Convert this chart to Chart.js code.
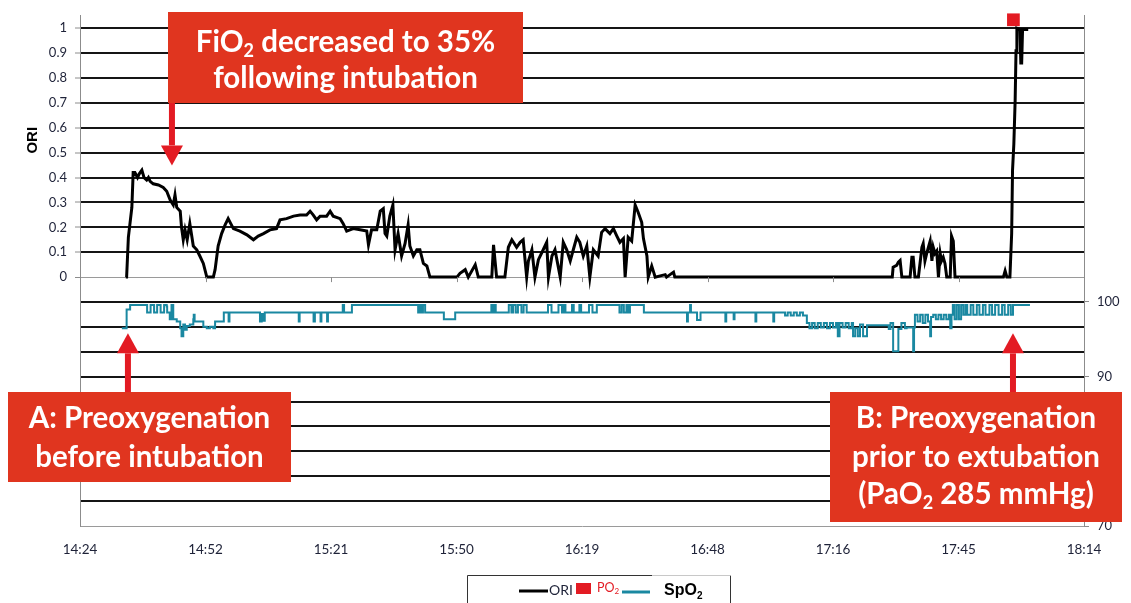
<!DOCTYPE html>
<html>
<head>
<meta charset="utf-8">
<script src="https://cdn.jsdelivr.net/npm/chart.js@4.4.1/dist/chart.umd.min.js"></script>
<style>
  html, body { margin: 0; padding: 0; background: #fff; }
</style>
</head>
<body>
<canvas id="graph" width="1131" height="603"></canvas>
<script>
// x values are minutes after 14:24 (Excel date axis, one tick every 0.02 day = 28.8 min)
const timeLabels = ['14:24', '14:52', '15:21', '15:50', '16:19', '16:48', '17:16', '17:45', '18:14'];
const tickStep = 28.8;
const spo2Ticks = [70, 80, 90, 100];

const oriMinutes = [
  10.5, 10.7, 11.1, 11.9, 12.2, 12.6, 13.2, 13.6, 14.2, 14.7,
  15.3, 15.7, 16.1, 16.8, 18.0, 19.1, 19.9, 20.7, 21.4, 21.8,
  22.2, 23.0, 23.3, 23.7, 24.1, 24.6, 25.2, 25.6, 26.0, 26.8,
  27.5, 28.3, 29.1, 30.6, 31.0, 31.7, 32.5, 33.3, 34.0, 34.6,
  35.2, 36.7, 38.3, 39.8, 40.9, 42.1, 43.6, 45.1, 45.9, 47.4,
  49.0, 50.5, 52.0, 52.8, 53.5, 54.3, 55.1, 56.6, 57.4, 58.1,
  59.7, 60.4, 61.2, 62.7, 64.3, 65.8, 66.2, 66.9, 68.1, 68.9,
  69.6, 70.0, 70.4, 71.1, 71.8, 72.3, 73.0, 73.8, 74.6, 75.3,
  75.7, 76.5, 77.3, 78.0, 78.8, 79.6, 80.3, 86.5, 87.2, 88.4,
  89.1, 90.7, 91.4, 94.5, 94.9, 95.6, 97.5, 98.3, 99.1, 100.2,
  101.0, 101.7, 102.5, 102.9, 103.7, 104.4, 105.2, 106.3, 107.1, 107.5,
  108.3, 109.0, 110.2, 110.9, 111.7, 112.5, 113.2, 114.0, 114.7, 115.5,
  116.3, 117.0, 117.8, 118.9, 119.7, 120.5, 121.6, 122.4, 123.2, 123.9,
  124.7, 125.1, 125.8, 126.6, 127.4, 128.1, 128.9, 129.3, 130.1, 130.4,
  131.2, 132.0, 134.3, 134.6, 136.2, 136.5, 186.4, 186.6, 187.4, 187.8,
  188.2, 188.6, 190.5, 190.9, 191.2, 191.6, 192.4, 193.2, 193.5, 193.9,
  194.3, 194.7, 195.1, 195.5, 195.8, 196.2, 196.6, 197.0, 197.4, 197.7,
  198.1, 198.5, 198.9, 199.7, 200.0, 200.4, 200.8, 211.9, 212.3, 212.7,
  213.4, 213.8, 214.0, 214.3, 214.6, 214.8, 215.0, 215.7, 215.9, 216.1,
  216.3, 217.6
];
const oriValues = [
  0, 0, 0.16, 0.28, 0.42, 0.42, 0.40, 0.415, 0.43, 0.40,
  0.39, 0.40, 0.385, 0.375, 0.37, 0.36, 0.345, 0.31, 0.29, 0.33,
  0.28, 0.265, 0.20, 0.15, 0.19, 0.15, 0.215, 0.17, 0.125, 0.11,
  0.085, 0.055, 0, 0, 0.03, 0.125, 0.175, 0.21, 0.235, 0.215,
  0.195, 0.185, 0.17, 0.15, 0.165, 0.175, 0.19, 0.195, 0.23, 0.235,
  0.245, 0.25, 0.25, 0.265, 0.25, 0.23, 0.245, 0.245, 0.265, 0.245,
  0.235, 0.215, 0.185, 0.195, 0.19, 0.185, 0.13, 0.19, 0.19, 0.265,
  0.275, 0.175, 0.165, 0.245, 0.29, 0.11, 0.175, 0.085, 0.135, 0.21,
  0.125, 0.085, 0.11, 0.11, 0.055, 0.045, 0, 0, 0.015, 0.03,
  0, 0.05, 0, 0, 0.13, 0, 0, 0.12, 0.15, 0.12,
  0.14, 0.15, 0, 0.065, 0.11, 0, 0.07, 0.11, 0.14, 0,
  0.085, 0.11, 0, 0.14, 0.11, 0.065, 0.11, 0.16, 0.14, 0.085,
  0.125, 0, 0.11, 0.085, 0.18, 0.195, 0.175, 0.195, 0.165, 0.14,
  0.155, 0, 0.16, 0.145, 0.29, 0.26, 0.22, 0.155, 0.085, 0,
  0.045, 0, 0.01, 0, 0.02, 0, 0, 0.04, 0.047, 0.06,
  0.067, 0, 0, 0.08, 0.08, 0, 0, 0.12, 0.135, 0.065,
  0.095, 0.12, 0.145, 0.065, 0.12, 0.095, 0.105, 0, 0.095, 0.065,
  0.08, 0.055, 0, 0, 0.165, 0.145, 0, 0, 0.025, 0,
  0, 0.175, 0.43, 0.535, 0.71, 0.91, 1.0, 0.995, 0.86, 0.86,
  0.995, 0.995
];

const spo2Minutes = [
  9.6, 10.3, 10.7, 11.5, 15.3, 15.4, 16.1, 16.2, 16.8, 17.0,
  17.6, 17.7, 18.4, 18.5, 19.1, 19.3, 19.9, 20.0, 20.6, 21.0,
  21.4, 22.2, 23.0, 23.3, 23.7, 24.1, 24.5, 25.2, 26.0, 26.1,
  26.3, 27.5, 28.3, 29.1, 29.8, 30.6, 31.0, 32.9, 33.0, 34.0,
  34.1, 34.3, 40.9, 41.3, 41.7, 42.0, 42.4, 50.1, 50.2, 50.4,
  53.5, 53.6, 53.9, 55.1, 55.2, 55.4, 56.6, 56.7, 56.9, 59.7,
  60.3, 60.6, 62.3, 62.4, 77.3, 77.6, 77.9, 78.3, 78.7, 79.2,
  83.4, 83.5, 85.7, 86.1, 94.1, 94.4, 94.8, 95.1, 95.4, 98.3,
  98.4, 99.0, 99.4, 100.0, 100.5, 101.3, 101.8, 102.5, 107.1, 107.4,
  108.2, 109.4, 109.8, 110.6, 111.0, 111.4, 112.9, 113.3, 114.6, 115.0,
  116.5, 116.8, 117.6, 118.6, 123.5, 123.8, 124.3, 124.8, 125.4, 125.8,
  126.2, 129.3, 129.4, 139.2, 139.3, 139.5, 140.0, 140.2, 141.5, 141.6,
  142.3, 142.4, 148.0, 148.1, 148.3, 149.9, 150.0, 150.2, 154.9, 155.0,
  155.2, 159.0, 159.1, 159.3, 161.3, 161.8, 162.4, 163.1, 163.8, 164.5,
  165.2, 165.9, 166.8, 167.4, 168.0, 168.6, 169.3, 170.0, 170.7, 171.4,
  172.1, 172.8, 173.5, 173.9, 174.3, 175.0, 175.7, 176.4, 177.1, 177.4,
  177.9, 178.5, 179.0, 179.7, 180.6, 185.2, 185.6, 186.0, 186.6, 187.5,
  187.8, 188.5, 189.3, 189.7, 191.1, 191.2, 191.4, 191.6, 192.2, 192.8,
  193.4, 194.0, 194.6, 195.1, 195.3, 195.8, 196.4, 197.0, 197.6, 198.2,
  198.8, 199.4, 199.7, 200.0, 200.3, 200.7, 201.2, 201.7, 202.2, 202.7,
  203.2, 203.6, 204.4, 205.0, 205.8, 206.4, 207.2, 207.8, 208.7, 209.3,
  210.0, 210.8, 211.6, 212.2, 213.0, 213.6, 214.1, 218.0
];
const spo2Values = [
  96.5, 96.5, 99.0, 99.6, 99.6, 98.6, 98.6, 99.6, 99.6, 98.6,
  98.6, 99.6, 99.6, 98.6, 98.6, 99.6, 99.4, 98.6, 97.7, 99.6,
  97.7, 97.4, 96.5, 95.4, 97.0, 96.3, 96.8, 97.0, 97.7, 98.3,
  97.4, 97.4, 96.7, 96.5, 96.7, 96.5, 97.4, 97.4, 98.6, 98.6,
  97.4, 98.6, 98.6, 97.4, 98.4, 97.5, 98.6, 98.6, 97.4, 98.6,
  98.6, 97.4, 98.6, 98.6, 97.4, 98.6, 98.6, 97.4, 98.6, 98.6,
  99.6, 98.6, 98.6, 99.6, 99.6, 98.6, 99.6, 98.6, 99.6, 98.6,
  98.6, 97.7, 97.7, 98.6, 98.6, 99.6, 98.6, 99.6, 98.6, 98.6,
  99.6, 98.6, 99.6, 98.6, 99.6, 98.6, 99.6, 98.6, 98.6, 99.6,
  98.6, 98.6, 99.6, 98.6, 99.6, 98.6, 99.6, 98.6, 99.6, 98.6,
  98.6, 99.6, 98.6, 99.6, 99.6, 98.6, 99.6, 98.6, 99.6, 98.6,
  99.6, 99.6, 98.6, 98.6, 97.4, 98.6, 99.6, 98.6, 98.6, 97.6,
  97.6, 98.6, 98.6, 97.4, 98.6, 98.6, 97.7, 98.6, 98.6, 97.4,
  98.6, 98.6, 97.4, 98.6, 98.6, 98.2, 98.6, 98.2, 98.6, 98.2,
  98.6, 98.2, 97.2, 96.5, 97.2, 96.5, 97.2, 96.6, 97.2, 96.5,
  97.2, 96.6, 97.2, 95.4, 97.2, 96.6, 97.2, 96.5, 97.2, 95.4,
  96.5, 95.4, 97.0, 95.4, 96.9, 96.9, 96.4, 97.2, 93.4, 93.4,
  96.4, 97.2, 96.5, 96.6, 96.6, 93.4, 96.6, 98.3, 97.4, 98.3,
  97.2, 98.3, 97.4, 95.4, 98.0, 98.3, 97.7, 98.3, 97.7, 98.3,
  97.7, 98.3, 96.5, 98.3, 99.6, 97.7, 99.6, 97.7, 99.6, 98.3,
  99.6, 98.3, 99.6, 98.3, 99.6, 98.3, 99.6, 98.3, 99.6, 98.3,
  99.6, 98.3, 99.6, 98.3, 99.6, 98.3, 99.6, 99.6
];

const po2Minutes = [214.2];
const po2Values = [1.034];

const RED_BOX = '#e0351f';
const RED_ARROW = '#e31b23';
const TEAL = '#1a88a1';
const TICK_COLOR = '#1e2238';

// call-out boxes (pixel layout) and the data point each arrow points at
const notes = [
  { box: [168, 12, 355, 91], lines: ['FiO{2} decreased to 35%', 'following intubation'], lineY: [42, 78],
    arrow: { dir: 'down', at: [21.1, 0.449] } },
  { box: [8, 392, 283, 90], lines: ['A: Preoxygenation', 'before intubation'], lineY: [418, 457],
    arrow: { dir: 'up', at: [11.0, -0.226] } },
  { box: [830, 392, 292, 130], lines: ['B: Preoxygenation', 'prior to extubation', '(PaO{2} 285 mmHg)'], lineY: [418, 457, 494],
    arrow: { dir: 'up', at: [214.1, -0.226] } }
];

function points(xs, ys) {
  return xs.map((x, i) => ({ x: x, y: ys[i] }));
}

// text with {2}-style subscripts, centred on cx
function richText(ctx, text, cx, cy, size, family, weight, color, align) {
  const parts = text.split(/\{(.*?)\}/);
  const big = `${weight} ${size}px ${family}`;
  const small = `${weight} ${Math.round(size * 0.62)}px ${family}`;
  let w = 0;
  parts.forEach((p, i) => { ctx.font = i % 2 ? small : big; w += ctx.measureText(p).width; });
  let x = align === 'left' ? cx : cx - w / 2;
  ctx.fillStyle = color;
  ctx.textAlign = 'left';
  ctx.textBaseline = 'middle';
  parts.forEach((p, i) => {
    ctx.font = i % 2 ? small : big;
    ctx.fillText(p, x, cy + (i % 2 ? size * 0.3 : 0));
    x += ctx.measureText(p).width;
  });
}

function arrow(ctx, x, from, tip, dir) {
  const head = 20, half = 11;
  ctx.fillStyle = RED_ARROW;
  if (dir === 'down') {
    ctx.fillRect(x - 3, from, 6, tip - head - from);
    ctx.beginPath();
    ctx.moveTo(x - half, tip - head); ctx.lineTo(x + half, tip - head); ctx.lineTo(x, tip);
  } else {
    ctx.fillRect(x - 3, tip + head, 6, from - tip - head);
    ctx.beginPath();
    ctx.moveTo(x - half, tip + head); ctx.lineTo(x + half, tip + head); ctx.lineTo(x, tip);
  }
  ctx.closePath();
  ctx.fill();
}

const decor = {
  id: 'decor',
  afterDraw(chart) {
    const ctx = chart.ctx;
    const xs = chart.scales.x, ys = chart.scales.y;
    ctx.save();

    // category axis sits on ORI = 0, with small tick marks
    const y0 = ys.getPixelForValue(0);
    ctx.strokeStyle = '#8c8c8c';
    ctx.lineWidth = 1;
    xs.ticks.forEach(t => {
      const px = Math.round(xs.getPixelForValue(t.value)) + 0.5;
      ctx.beginPath(); ctx.moveTo(px, y0); ctx.lineTo(px, y0 + 5); ctx.stroke();
    });

    // axis title, centred on the 0..1 part
    ctx.save();
    ctx.translate(33, ys.getPixelForValue(0.55));
    ctx.rotate(-Math.PI / 2);
    ctx.font = 'bold 15px "Liberation Sans", Arial';
    ctx.fillStyle = '#000';
    ctx.textAlign = 'center';
    ctx.textBaseline = 'middle';
    ctx.fillText('ORI', 0, 0);
    ctx.restore();

    // call-outs
    notes.forEach(n => {
      const [bx, by, bw, bh] = n.box;
      const ax = xs.getPixelForValue(n.arrow.at[0]);
      const ay = ys.getPixelForValue(n.arrow.at[1]);
      if (n.arrow.dir === 'down') arrow(ctx, ax, by + bh, ay, 'down');
      else arrow(ctx, ax, by, ay, 'up');
      ctx.fillStyle = RED_BOX;
      ctx.fillRect(bx, by, bw, bh);
      n.lines.forEach((l, i) => richText(ctx, l, bx + bw / 2, n.lineY[i], 29.5, 'Lato', 'bold', '#fff'));
    });

    // legend
    ctx.strokeStyle = '#333';
    ctx.lineWidth = 1;
    ctx.beginPath();
    ctx.moveTo(467.5, 610); ctx.lineTo(467.5, 575.5); ctx.lineTo(652, 575.5);
    ctx.moveTo(730.5, 575.5); ctx.lineTo(730.5, 610);
    ctx.stroke();
    ctx.strokeStyle = '#c8c8c8';
    ctx.beginPath(); ctx.moveTo(652, 575.5); ctx.lineTo(730.5, 575.5); ctx.stroke();

    ctx.strokeStyle = '#000'; ctx.lineWidth = 3;
    ctx.beginPath(); ctx.moveTo(519, 591); ctx.lineTo(548, 591); ctx.stroke();
    richText(ctx, 'ORI', 549, 590, 14, 'Lato', 'normal', TICK_COLOR, 'left');
    ctx.fillStyle = RED_ARROW;
    ctx.fillRect(576, 583, 15, 11);
    richText(ctx, 'PO{2}', 597, 588, 12.5, 'Lato', 'normal', RED_ARROW, 'left');
    ctx.strokeStyle = TEAL; ctx.lineWidth = 3;
    ctx.beginPath(); ctx.moveTo(622, 592); ctx.lineTo(650, 592); ctx.stroke();
    richText(ctx, 'SpO{2}', 664, 591, 16, '"Liberation Sans", Arial', 'bold', '#000', 'left');

    ctx.restore();
  }
};

const gridValues = [];
for (let i = -10; i <= 10; i++) gridValues.push(i / 10);

new Chart(document.getElementById('graph').getContext('2d'), {
  type: 'line',
  data: {
    datasets: [
      {
        label: 'ORI',
        data: points(oriMinutes, oriValues),
        yAxisID: 'y',
        borderColor: '#000',
        borderWidth: 3,
        pointRadius: 0,
        tension: 0
      },
      {
        label: 'PO2',
        data: points(po2Minutes, po2Values),
        yAxisID: 'y',
        showLine: false,
        pointStyle: 'rect',
        pointRadius: 9,
        backgroundColor: RED_ARROW,
        borderColor: RED_ARROW,
        borderWidth: 0,
        clip: false
      },
      {
        label: 'SpO2',
        data: points(spo2Minutes, spo2Values),
        yAxisID: 'y2',
        borderColor: TEAL,
        borderWidth: 2,
        pointRadius: 0,
        stepped: true
      }
    ]
  },
  options: {
    responsive: false,
    animation: false,
    devicePixelRatio: 1,
    layout: { padding: { top: 15, left: 0, right: 0, bottom: 0 } },
    plugins: { legend: { display: false }, tooltip: { enabled: false } },
    scales: {
      x: {
        type: 'linear',
        min: 0,
        max: tickStep * (timeLabels.length - 1),
        afterBuildTicks: s => { s.ticks = timeLabels.map((_, i) => ({ value: i * tickStep })); },
        afterFit: s => { s.height = 77; },
        grid: { display: false, drawTicks: false },
        border: { display: false },
        ticks: {
          autoSkip: false, maxRotation: 0, padding: 16,
          color: TICK_COLOR, font: { family: 'Lato', size: 13.5 },
          callback: (v, i) => timeLabels[i]
        }
      },
      y: {
        position: 'left',
        min: -1,
        max: 1.05,
        afterBuildTicks: s => { s.ticks = gridValues.map(v => ({ value: v })); },
        afterFit: s => { s.width = 80; },
        grid: {
          color: c => (c.tick && (c.tick.value === 0 || c.tick.value === -1)) ? '#9a9a9a' : '#151515',
          lineWidth: c => (c.tick && (c.tick.value === 0 || c.tick.value === -1)) ? 1 : 2,
          tickLength: 5,
          tickWidth: 1,
          tickColor: c => (c.tick && c.tick.value >= 0) ? '#8c8c8c' : 'rgba(0,0,0,0)'
        },
        border: { color: '#8c8c8c', width: 1 },
        ticks: {
          autoSkip: false, padding: 8,
          color: TICK_COLOR, font: { family: 'Lato', size: 13 },
          callback: v => v >= 0 ? String(Math.round(v * 10) / 10) : ''
        }
      },
      y2: {
        position: 'right',
        min: 70,
        max: 138.33,
        afterBuildTicks: s => { s.ticks = spo2Ticks.map(v => ({ value: v })); },
        afterFit: s => { s.width = 47; },
        grid: { drawOnChartArea: false, tickLength: 5, color: '#8c8c8c' },
        border: { color: '#8c8c8c', width: 1 },
        ticks: {
          autoSkip: false, padding: 8,
          color: TICK_COLOR, font: { family: 'Lato', size: 13 }
        }
      }
    }
  },
  plugins: [decor]
});
</script>
</body>
</html>
